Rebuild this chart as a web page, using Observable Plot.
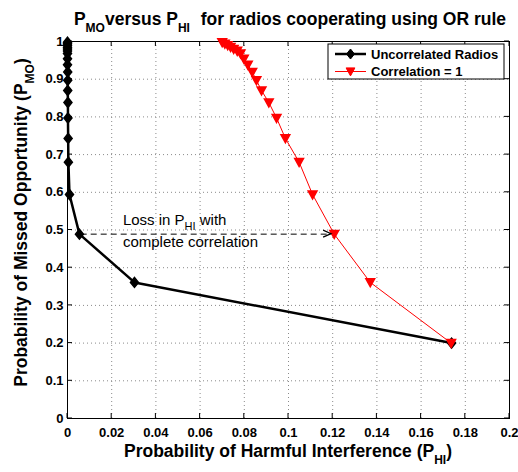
<!DOCTYPE html>
<html><head><meta charset="utf-8">
<script src="https://cdn.jsdelivr.net/npm/d3@7"></script>
<script src="https://cdn.jsdelivr.net/npm/@observablehq/plot@0.6"></script>
<style>body{margin:0;background:#fff;} svg{display:block;}</style>
</head><body><div id="chart"></div>
<script>
// Probability of Missed Opportunity (shared thresholds)
const pmo = [0.998, 0.994, 0.990, 0.985, 0.980, 0.975, 0.968, 0.954, 0.938, 0.919, 0.897, 0.870, 0.838, 0.797, 0.743, 0.680, 0.594, 0.489, 0.361, 0.200];
// Probability of Harmful Interference, uncorrelated radios
const phiUncorr = [0, 0, 0, 0, 0, 0, 0, 0, 0, 0.0001, 0.0001, 0.0001, 0.0002, 0.0002, 0.0003, 0.0004, 0.0009, 0.0054, 0.0303, 0.1738];
// Probability of Harmful Interference, correlation = 1
const phiCorr = [0.0700, 0.0712, 0.0725, 0.0738, 0.0752, 0.0768, 0.0783, 0.0798, 0.0816, 0.0836, 0.0855, 0.0878, 0.0911, 0.0946, 0.0986, 0.1048, 0.1109, 0.1207, 0.1370, 0.1736];
const seriesNames = ["Uncorrelated Radios", "Correlation = 1"];
const xTicks = [0, 0.02, 0.04, 0.06, 0.08, 0.1, 0.12, 0.14, 0.16, 0.18, 0.2];
const yTicks = [0, 0.1, 0.2, 0.3, 0.4, 0.5, 0.6, 0.7, 0.8, 0.9, 1];
const arrowY = [0.489];
const arrowX = [0.0062, 0.1195];
const noteX = [0.0253];
const noteY = [0.512, 0.4536];

const uncorr = pmo.map((y, i) => ({x: phiUncorr[i], y}));
const corr = pmo.map((y, i) => ({x: phiCorr[i], y}));
const fmt = d => String(+d.toFixed(2));

const diamond = {draw(ctx, size) { const r = Math.sqrt(size / Math.PI); const h = r * 1.25, w = r;
  ctx.moveTo(0, -h); ctx.lineTo(w, 0); ctx.lineTo(0, h); ctx.lineTo(-w, 0); ctx.closePath(); }};
const triDown = {draw(ctx, size) { const r = Math.sqrt(size / Math.PI);
  ctx.moveTo(-r * 1.1, -r * 0.9); ctx.lineTo(r * 1.1, -r * 0.9); ctx.lineTo(0, r * 1.1); ctx.closePath(); }};

const FONT = "'Liberation Sans', Arial, Helvetica, sans-serif";
const plot = Plot.plot({
  width: 518, height: 472,
  marginLeft: 67, marginRight: 9, marginTop: 41, marginBottom: 54,
  style: {fontFamily: FONT, background: "#fff", overflow: "visible", color: "#000"},
  x: {domain: [0, 0.2]},
  y: {domain: [0, 1]},
  marks: [
    Plot.gridX(xTicks, {stroke: "#8a8a8a", strokeOpacity: 1, strokeDasharray: "1,3"}),
    Plot.gridY(yTicks, {stroke: "#8a8a8a", strokeOpacity: 1, strokeDasharray: "1,3"}),
    Plot.axisX(xTicks, {tickSize: 0, tickPadding: 9, tickFormat: fmt, fontSize: 13, fontWeight: "bold", label: null, fill: "#000"}),
    Plot.axisY(yTicks, {tickSize: 0, tickPadding: 4, tickFormat: fmt, fontSize: 13, fontWeight: "bold", label: null, fill: "#000"}),
    Plot.frame({stroke: "#000"}),
    Plot.ruleY(arrowY, {x1: arrowX[0], x2: arrowX[1], stroke: "#000", strokeDasharray: "6,4", strokeWidth: 1}),
    Plot.line(uncorr, {x: "x", y: "y", stroke: "#000", strokeWidth: 2.5}),
    Plot.dot(uncorr, {x: "x", y: "y", symbol: diamond, r: 4, fill: "#000", stroke: "#000"}),
    Plot.line(corr, {x: "x", y: "y", stroke: "#ff0000", strokeWidth: 1}),
    Plot.dot(corr, {x: "x", y: "y", symbol: triDown, r: 4, fill: "#ff0000", stroke: "#ff0000"})
  ]
});
document.getElementById("chart").appendChild(plot);

const svg = d3.select(plot);
const xs = plot.scale("x"), ys = plot.scale("y");
const [X0, X1] = xs.range, [Y0, Y1] = ys.range; // Y0 bottom, Y1 top
const g = svg.append("g").attr("font-family", FONT).attr("text-anchor", "start");

// inward ticks on all four sides
xTicks.forEach(t => {
  const px = xs.apply(t);
  g.append("line").attr("x1", px).attr("x2", px).attr("y1", Y0).attr("y2", Y0 - 5).attr("stroke", "#000");
  g.append("line").attr("x1", px).attr("x2", px).attr("y1", Y1).attr("y2", Y1 + 5).attr("stroke", "#000");
});
yTicks.forEach(t => {
  const py = ys.apply(t);
  g.append("line").attr("x1", X0).attr("x2", X0 + 5).attr("y1", py).attr("y2", py).attr("stroke", "#000");
  g.append("line").attr("x1", X1).attr("x2", X1 - 5).attr("y1", py).attr("y2", py).attr("stroke", "#000");
});

// arrow head
{
  const px = xs.apply(arrowX[1]), py = ys.apply(arrowY[0]);
  g.append("path").attr("d", `M${px - 8},${py - 3.5}L${px},${py}L${px - 8},${py + 3.5}`)
    .attr("fill", "none").attr("stroke", "#000").attr("stroke-width", 1.2);
}

// annotation
{
  const px = xs.apply(noteX[0]);
  const t1 = g.append("text").attr("x", px).attr("y", ys.apply(noteY[0])).attr("font-size", 15).attr("fill", "#000").attr("text-anchor", "start");
  t1.append("tspan").text("Loss in P");
  t1.append("tspan").attr("dy", 5).attr("font-size", 11).text("HI");
  t1.append("tspan").attr("dy", -5).text(" with");
  g.append("text").attr("x", px).attr("y", ys.apply(noteY[1])).attr("font-size", 15).attr("fill", "#000").attr("text-anchor", "start").text("complete correlation");
}

// title
{
  const t = g.append("text").attr("x", (X0 + X1) / 2 + 2).attr("y", 25).attr("text-anchor", "middle")
    .attr("font-size", 17.5).attr("font-weight", "bold").attr("fill", "#000");
  t.append("tspan").text("P");
  t.append("tspan").attr("dy", 7).attr("font-size", 12).text("MO");
  t.append("tspan").attr("dy", -7).text("versus P");
  t.append("tspan").attr("dy", 7).attr("font-size", 12).text("HI");
  t.append("tspan").attr("dy", -7).attr("dx", 6).text(" for radios cooperating using OR rule");
}

// x label
{
  const t = g.append("text").attr("x", (X0 + X1) / 2).attr("y", 457).attr("text-anchor", "middle")
    .attr("font-size", 17.5).attr("font-weight", "bold").attr("fill", "#000");
  t.append("tspan").text("Probability of Harmful Interference (P");
  t.append("tspan").attr("dy", 7).attr("font-size", 12).text("HI");
  t.append("tspan").attr("dy", -7).text(")");
}
// y label
{
  const t = g.append("text").attr("transform", `translate(27,${(Y0 + Y1) / 2 - 7}) rotate(-90)`).attr("text-anchor", "middle")
    .attr("font-size", 17.5).attr("font-weight", "bold").attr("fill", "#000");
  t.append("tspan").text("Probability of Missed Opportunity (P");
  t.append("tspan").attr("dy", 7).attr("font-size", 12).text("MO");
  t.append("tspan").attr("dy", -7).text(")");
}

// legend
{
  const right = X1 - 5, top = Y1 + 3, w = 176, h = 35;
  const left = right - w;
  g.append("rect").attr("x", left).attr("y", top).attr("width", w).attr("height", h)
    .attr("fill", "#fff").attr("stroke", "#000");
  const rows = [
    {name: seriesNames[0], color: "#000", sw: 2.5, sym: diamond},
    {name: seriesNames[1], color: "#ff0000", sw: 1, sym: triDown}
  ];
  rows.forEach((r, i) => {
    const cy = top + 10 + i * 17.5;
    g.append("line").attr("x1", left + 7).attr("x2", left + 38).attr("y1", cy).attr("y2", cy)
      .attr("stroke", r.color).attr("stroke-width", r.sw);
    g.append("path").attr("d", d3.symbol(r.sym, 16 * Math.PI)()).attr("transform", `translate(${left + 22.5},${cy})`)
      .attr("fill", r.color).attr("stroke", r.color);
    g.append("text").attr("x", left + 43).attr("y", cy).attr("dy", "0.36em").attr("font-size", 13)
      .attr("font-weight", "bold").attr("fill", "#000").attr("text-anchor", "start").text(r.name);
  });
}
</script>
</body></html>
